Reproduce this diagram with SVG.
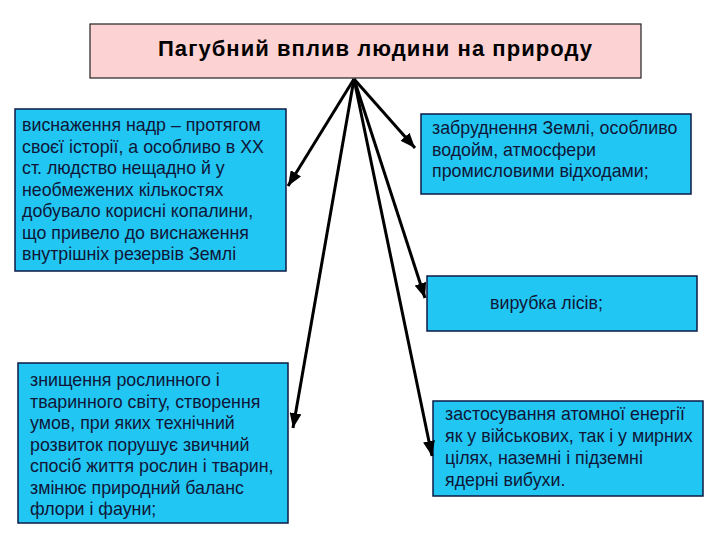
<svg xmlns="http://www.w3.org/2000/svg" width="720" height="540" viewBox="0 0 720 540">
<defs>
<style>
.title{fill:#fcd2d2;stroke:#222;stroke-width:1.2}
.box{fill:#22c6f2;stroke:#0d1a45;stroke-width:1.5}
.t{font-family:"Liberation Sans",Arial,sans-serif;font-size:17.8px;fill:#0f1638}
.tt{font-family:"Liberation Sans",Arial,sans-serif;font-size:22px;font-weight:bold;fill:#000}
.c{stroke:#000;stroke-width:3;fill:none;marker-end:url(#ah)}
</style>
<marker id="ah" markerUnits="userSpaceOnUse" markerWidth="16" markerHeight="12" refX="15" refY="6" orient="auto">
<path d="M0,0 L15,6 L0,12 Z" fill="#000"/>
</marker>
</defs>
<rect width="720" height="540" fill="#fff"/>
<g id="title">
<rect class="title" x="90" y="24" width="551" height="54"/>
<text class="tt" x="158" y="56" textLength="434" lengthAdjust="spacing">Пагубний вплив людини на природу</text>
</g>
<g id="n1">
<rect class="box" x="15" y="109" width="271" height="162"/>
<text class="t" x="22" y="131">виснаження надр – протягом</text>
<text class="t" x="22" y="152.5">своєї історії, а особливо в ХХ</text>
<text class="t" x="22" y="174">ст. людство нещадно й у</text>
<text class="t" x="22" y="195.5">необмежених кількостях</text>
<text class="t" x="22" y="217">добувало корисні копалини,</text>
<text class="t" x="22" y="238.5">що привело до виснаження</text>
<text class="t" x="22" y="260">внутрішніх резервів Землі</text>
</g>
<g id="n2">
<rect class="box" x="421" y="114" width="270" height="80"/>
<text class="t" x="432" y="134">забруднення Землі, особливо</text>
<text class="t" x="432" y="155.5">водойм, атмосфери</text>
<text class="t" x="432" y="177">промисловими відходами;</text>
</g>
<g id="n3">
<rect class="box" x="427" y="276" width="270" height="55"/>
<text class="t" x="490" y="309">вирубка лісів;</text>
</g>
<g id="n4">
<rect class="box" x="18" y="363" width="270" height="160"/>
<text class="t" x="30" y="386">знищення рослинного і</text>
<text class="t" x="30" y="407.5">тваринного світу, створення</text>
<text class="t" x="30" y="429">умов, при яких технічний</text>
<text class="t" x="30" y="450.5">розвиток порушує звичний</text>
<text class="t" x="30" y="472">спосіб життя рослин і тварин,</text>
<text class="t" x="30" y="493.5">змінює природний баланс</text>
<text class="t" x="30" y="515">флори і фауни;</text>
</g>
<g id="n5">
<rect class="box" x="433" y="401" width="270" height="95"/>
<text class="t" x="445" y="420">застосування атомної енергії</text>
<text class="t" x="445" y="442">як у військових, так і у мирних</text>
<text class="t" x="445" y="464">цілях, наземні і підземні</text>
<text class="t" x="445" y="486">ядерні вибухи.</text>
</g>
<g id="connectors">
<line class="c" x1="354" y1="79" x2="288" y2="186"/>
<line class="c" x1="354" y1="79" x2="415" y2="148"/>
<line class="c" x1="354" y1="79" x2="293" y2="428"/>
<line class="c" x1="354" y1="79" x2="425" y2="298"/>
<line class="c" x1="354" y1="79" x2="432" y2="456"/>
</g>
</svg>
